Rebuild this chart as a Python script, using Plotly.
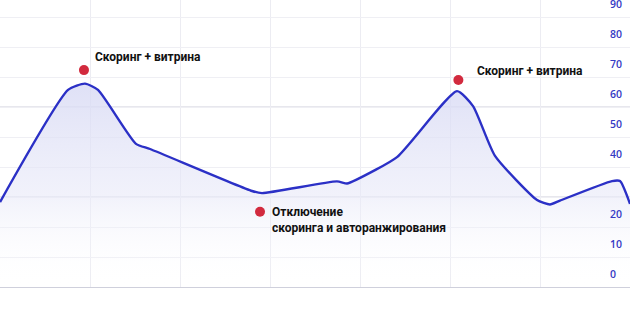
import plotly.graph_objects as go

# Series (x in period units, y in value units)
x_vals = [0.0, 0.756, 0.944, 1.089, 1.511, 1.667, 2.8, 2.911, 3.744, 3.856, 3.956,
          4.411, 5.078, 5.256, 5.5, 5.967, 6.111, 6.222, 6.8, 6.889, 7.0]
y_vals = [28.3, 65.7, 67.8, 65.7, 47.7, 46.0, 32.0, 31.3, 35.2, 34.5, 35.7,
          43.3, 65.3, 60.3, 43.7, 29.0, 27.5, 28.8, 35.3, 35.3, 27.7]

# Event markers
event_x = [0.933, 5.093, 2.889]
event_y = [72.3, 69.0, 25.1]
event_labels = ["Скоринг + витрина", "Скоринг + витрина",
                "Отключение<br>скоринга и авторанжирования"]
label_x = [1.035, 5.28, 3.0]
label_y = [76.7, 72.0, 22.4]

# Axis tick labels
tick_vals = [0, 10, 20, 40, 50, 60, 70, 80, 90]
strong_lines = [30, 60]

LINE = "#2b30c6"

fig = go.Figure()
fig.add_trace(go.Scatter(
    x=x_vals, y=y_vals, mode="lines",
    line=dict(color=LINE, width=2.4, shape="spline", smoothing=0.55),
    fill="tozeroy",
    fillgradient=dict(type="vertical", start=0, stop=68,
                      colorscale=[[0, "rgba(255,255,255,0)"],
                                  [0.45, "rgba(232,233,248,0.6)"],
                                  [1, "rgba(215,217,244,0.8)"]]),
    hoverinfo="skip", showlegend=False,
))
fig.add_trace(go.Scatter(
    x=event_x, y=event_y, mode="markers",
    marker=dict(color="#d22a3e", size=10), showlegend=False, hoverinfo="skip",
))

for lx, ly, t in zip(label_x, label_y, event_labels):
    fig.add_annotation(x=lx, y=ly, text="<b>" + t + "</b>", showarrow=False,
                       xanchor="left", yanchor="middle", align="left",
                       font=dict(family="Roboto", size=12, color="#111111"))

for v in tick_vals:
    fig.add_annotation(x=608 / 630, xref="paper", y=v, yref="y",
                       text=str(v), showarrow=False, xanchor="left", yanchor="middle",
                       yshift=13,
                       font=dict(family="Open Sans", size=10.5, color="#3539c4", weight=600))

for v in strong_lines:
    fig.add_shape(type="line", xref="paper", x0=0, x1=1, yref="y", y0=v, y1=v,
                  line=dict(color="#cfd0dc", width=1.2), layer="below")

fig.update_xaxes(range=[0, 7], dtick=1, tick0=0, showgrid=True, gridcolor="#ececf2",
                 gridwidth=1, showticklabels=False, zeroline=False,
                 showline=True, linecolor="#cfd0dc", linewidth=1.2)
fig.update_yaxes(range=[0, 95.67], dtick=10, tick0=0, showgrid=True,
                 gridcolor="#efeff4", gridwidth=1, showticklabels=False,
                 zeroline=False, showline=False)
fig.update_layout(width=630, height=331, margin=dict(l=0, r=0, t=0, b=44),
                  plot_bgcolor="white", paper_bgcolor="white")

fig.write_html("out.html")
